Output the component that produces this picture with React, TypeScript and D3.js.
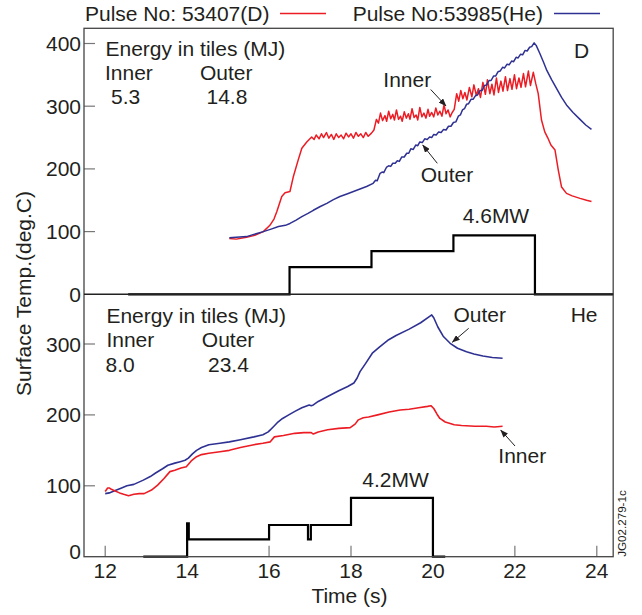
import React from 'react';
import * as d3 from 'd3';

type P = [number, number];

// ---------- tick labels ----------
const xTicks = [12, 14, 16, 18, 20, 22, 24];
const yTopTicks = [0, 100, 200, 300, 400];
const yBotTicks = [0, 100, 200, 300];

// ---------- top panel (D): surface temperature ----------
const dInner: P[] = [
  [15.03, 89], [15.2, 88], [15.45, 91], [15.65, 94], [15.86, 100], [16.02, 110], [16.12, 120],
  [16.19, 132], [16.31, 156], [16.39, 162], [16.51, 164], [16.59, 187], [16.71, 214], [16.8, 233],
  [16.92, 243], [17.04, 251], [17.1, 247], [17.15, 254], [17.22, 248], [17.28, 256], [17.33, 250],
  [17.4, 258], [17.46, 249], [17.52, 255], [17.58, 247], [17.64, 256], [17.7, 250], [17.76, 254],
  [17.82, 248], [17.88, 257], [17.94, 251], [18.0, 256], [18.06, 249], [18.12, 258], [18.18, 252],
  [18.24, 256], [18.3, 250], [18.36, 258], [18.42, 252], [18.5, 257], [18.56, 262], [18.62, 279],
  [18.67, 273], [18.72, 289], [18.77, 277], [18.83, 285], [18.87, 276], [18.92, 292], [18.97, 280],
  [19.02, 287], [19.06, 278], [19.11, 294], [19.16, 279], [19.21, 284], [19.25, 276], [19.3, 291],
  [19.35, 281], [19.4, 288], [19.44, 279], [19.49, 296], [19.54, 282], [19.59, 286], [19.63, 278],
  [19.68, 298], [19.73, 283], [19.78, 289], [19.83, 281], [19.88, 295], [19.92, 284], [19.97, 290],
  [20.02, 283], [20.07, 297], [20.12, 286], [20.17, 292], [20.22, 284], [20.27, 302], [20.32, 288],
  [20.37, 294], [20.42, 283], [20.47, 290], [20.52, 295], [20.58, 320], [20.63, 308], [20.68, 325],
  [20.73, 312], [20.78, 322], [20.83, 310], [20.89, 330], [20.95, 315], [21.0, 334], [21.06, 317],
  [21.11, 328], [21.16, 314], [21.22, 338], [21.28, 319], [21.33, 342], [21.39, 320], [21.44, 335],
  [21.49, 318], [21.55, 345], [21.6, 322], [21.66, 340], [21.71, 324], [21.77, 347], [21.82, 325],
  [21.88, 344], [21.93, 327], [21.99, 350], [22.04, 328], [22.1, 345], [22.15, 330], [22.21, 352],
  [22.26, 331], [22.33, 356], [22.38, 333], [22.45, 354], [22.51, 336], [22.57, 320], [22.65, 278],
  [22.73, 259], [22.8, 250], [22.88, 238], [22.98, 230], [23.06, 198], [23.14, 171], [23.26, 161],
  [23.4, 157], [23.59, 153], [23.75, 150], [23.87, 148],
];

const dOuter: P[] = [
  [15.03, 90], [15.45, 92], [15.86, 100], [16.05, 104], [16.23, 108], [16.4, 110], [16.51, 113],
  [16.65, 118], [16.8, 124], [16.95, 129], [17.08, 134], [17.25, 140], [17.41, 145], [17.57, 151],
  [17.73, 156], [17.9, 160], [18.06, 164], [18.22, 168], [18.38, 172], [18.54, 177], [18.6, 182],
  [18.64, 181], [18.71, 193], [18.76, 195], [18.8, 194], [18.87, 203], [18.92, 205], [18.97, 204],
  [19.02, 209], [19.08, 209], [19.13, 213], [19.18, 212], [19.24, 219], [19.3, 219], [19.36, 225],
  [19.41, 225], [19.46, 232], [19.52, 231], [19.58, 238], [19.63, 237], [19.68, 243], [19.74, 242],
  [19.8, 248], [19.86, 247], [19.92, 251], [19.97, 250], [20.02, 255], [20.08, 254], [20.14, 259],
  [20.2, 258], [20.26, 263], [20.32, 262], [20.38, 268], [20.44, 268], [20.5, 274], [20.56, 275],
  [20.62, 284], [20.67, 286], [20.72, 294], [20.77, 296], [20.82, 303], [20.87, 304], [20.93, 311],
  [20.98, 311], [21.04, 317], [21.09, 318], [21.15, 325], [21.2, 325], [21.26, 333], [21.31, 334],
  [21.37, 341], [21.42, 341], [21.48, 348], [21.53, 348], [21.59, 355], [21.64, 356], [21.7, 362],
  [21.75, 361], [21.81, 367], [21.86, 366], [21.92, 372], [21.97, 371], [22.03, 378], [22.08, 377],
  [22.14, 383], [22.19, 382], [22.25, 389], [22.3, 388], [22.36, 394], [22.41, 395], [22.47, 401],
  [22.52, 397], [22.61, 384], [22.7, 370], [22.78, 357], [22.9, 342], [23.02, 328], [23.14, 314],
  [23.26, 302], [23.42, 290], [23.59, 279], [23.73, 270], [23.87, 263],
];

// ---------- bottom panel (He): surface temperature ----------
const heOuter: P[] = [
  [12.0, 89], [12.1, 90], [12.23, 93], [12.4, 97], [12.53, 100], [12.7, 102], [12.93, 108],
  [13.1, 113], [13.23, 118], [13.4, 124], [13.53, 129], [13.7, 132], [13.83, 134], [13.95, 136],
  [14.03, 139], [14.13, 145], [14.23, 150], [14.35, 154], [14.53, 158], [14.8, 160], [15.03, 162],
  [15.3, 165], [15.63, 169], [15.85, 172], [15.98, 176], [16.1, 183], [16.2, 189], [16.33, 195],
  [16.48, 200], [16.63, 205], [16.8, 210], [16.98, 214], [17.03, 213], [17.08, 214], [17.2, 219],
  [17.43, 226], [17.7, 234], [17.92, 240], [18.07, 245], [18.15, 252], [18.22, 261], [18.35, 272],
  [18.52, 287], [18.7, 296], [18.92, 306], [19.1, 312], [19.42, 321], [19.7, 330], [19.92, 339],
  [19.97, 341], [20.02, 337], [20.12, 324], [20.25, 311], [20.42, 301], [20.6, 294], [20.82, 289],
  [21.0, 286], [21.22, 283], [21.45, 281], [21.7, 280],
];

const heInner: P[] = [
  [12.0, 92], [12.06, 97], [12.1, 97], [12.15, 95], [12.23, 93], [12.35, 90], [12.45, 88],
  [12.57, 86], [12.7, 88], [12.83, 89], [12.95, 89], [13.13, 94], [13.28, 101], [13.43, 110],
  [13.58, 120], [13.7, 122], [13.85, 125], [13.98, 127], [14.1, 135], [14.23, 141], [14.35, 144],
  [14.53, 146], [14.8, 148], [15.03, 150], [15.3, 154], [15.63, 158], [15.85, 160], [16.03, 162],
  [16.13, 169], [16.35, 171], [16.63, 174], [16.85, 175], [17.03, 175], [17.08, 173], [17.2, 176],
  [17.43, 179], [17.7, 181], [17.98, 182], [18.1, 187], [18.18, 193], [18.3, 196], [18.43, 197],
  [18.65, 200], [18.93, 204], [19.2, 207], [19.42, 208], [19.65, 210], [19.87, 212], [19.95, 213],
  [20.02, 209], [20.1, 201], [20.17, 195], [20.3, 190], [20.52, 186], [20.7, 185], [21.02, 184],
  [21.3, 184], [21.5, 183], [21.7, 184],
];

// ---------- heating power (step traces) ----------
const dPower: P[] = [[12.56, 0], [16.5, 43.5], [18.5, 69], [20.5, 94], [22.49, 0], [24.4, 0]];
const hePower: P[] = [
  [12.93, 0], [14.0, 47], [14.04, 24.5], [16.0, 44.7], [16.95, 24.5], [17.02, 44.7], [18.0, 83],
  [20.0, 0], [20.3, 0],
];

const RED = '#ec1c24';
const BLUE = '#2e3192';
const INK = '#231f20';
const FONT = "'Liberation Sans', Arial, Helvetica, sans-serif";

export default function App() {
  const x = d3.scaleLinear().domain([12, 24]).range([105.2, 596.8]);
  const yT = d3.scaleLinear().domain([0, 400]).range([294.3, 43.5]);
  const yB = d3.scaleLinear().domain([0, 300]).range([556.7, 344]);
  const left = 84;
  const right = x(24.4);
  const top = 28.3;
  const bottom = yB(0);
  const mid = yT(0);

  const lineT = d3.line<P>().x(d => x(d[0])).y(d => yT(d[1]));
  const lineB = d3.line<P>().x(d => x(d[0])).y(d => yB(d[1]));
  const stepT = d3.line<P>().x(d => x(d[0])).y(d => yT(d[1])).curve(d3.curveStepAfter);
  const stepB = d3.line<P>().x(d => x(d[0])).y(d => yB(d[1])).curve(d3.curveStepAfter);

  const txt = { fontFamily: FONT, fontSize: 21, fill: INK } as const;

  return (
    <svg width={642} height={615} style={{ position: 'absolute', left: 0, top: 0, background: '#fff' }}>
      <defs>
        <marker id="ah" markerUnits="userSpaceOnUse" markerWidth={8} markerHeight={6} refX={7.5} refY={3} orient="auto">
          <path d="M0,0 L8,3 L0,6 Z" fill={INK} />
        </marker>
      </defs>

      {/* legend */}
      <text x={85} y={20.7} {...txt}>Pulse No: 53407(D)</text>
      <line x1={280} x2={326} y1={13.5} y2={13.5} stroke={RED} strokeWidth={1.6} />
      <text x={352.7} y={20.7} {...txt}>Pulse No:53985(He)</text>
      <line x1={554} x2={600} y1={13.5} y2={13.5} stroke={BLUE} strokeWidth={1.6} />

      {/* y tick marks and labels */}
      {yTopTicks.filter(t => t > 0).map(t => (
        <line key={'tt' + t} x1={left} x2={left + 11} y1={yT(t)} y2={yT(t)} stroke="#777" strokeWidth={1.2} />
      ))}
      {yTopTicks.map(t => (
        <text key={'tl' + t} x={81} y={yT(t)} dy="0.36em" textAnchor="end" {...txt}>{t}</text>
      ))}
      {yBotTicks.filter(t => t > 0).map(t => (
        <line key={'bt' + t} x1={left} x2={left + 11} y1={yB(t)} y2={yB(t)} stroke="#777" strokeWidth={1.2} />
      ))}
      {yBotTicks.map(t => (
        <text key={'bl' + t} x={81} y={Math.min(yB(t), 551.5)} dy="0.36em" textAnchor="end" {...txt}>{t}</text>
      ))}

      {/* x tick marks and labels */}
      {xTicks.map(t => (
        <g key={'x' + t}>
          <line x1={x(t)} x2={x(t)} y1={bottom} y2={bottom - 11} stroke="#777" strokeWidth={1.2} />
          <text x={x(t)} y={577.5} textAnchor="middle" {...txt}>{t}</text>
        </g>
      ))}

      {/* axis titles */}
      <text x={349.5} y={602.5} textAnchor="middle" {...txt}>Time (s)</text>
      <text transform={`translate(31,293.5) rotate(-90)`} textAnchor="middle" {...txt}>Surface Temp.(deg.C)</text>
      <text transform={`translate(626,556.7) rotate(-90)`} textAnchor="start" fontFamily={FONT} fontSize={11.6} fill={INK}>JG02.279-1c</text>

      {/* data: top panel */}
      <path d={lineT(dInner) || ''} fill="none" stroke={RED} strokeWidth={1.5} strokeLinejoin="round" />
      <path d={lineT(dOuter) || ''} fill="none" stroke={BLUE} strokeWidth={1.5} strokeLinejoin="round" />
      <path d={stepT(dPower) || ''} fill="none" stroke="#000" strokeWidth={2.2} />

      {/* data: bottom panel */}
      <path d={lineB(heOuter) || ''} fill="none" stroke={BLUE} strokeWidth={1.6} strokeLinejoin="round" />
      <path d={lineB(heInner) || ''} fill="none" stroke={RED} strokeWidth={1.6} strokeLinejoin="round" />
      <path d={stepB(hePower) || ''} fill="none" stroke="#000" strokeWidth={2.2} />

      {/* frame and divider */}
      <rect x={left} y={top} width={right - left} height={bottom - top} fill="none" stroke="#444" strokeWidth={1.3} />
      <line x1={left} x2={right} y1={mid} y2={mid} stroke="#222" strokeWidth={1.4} />

      {/* top panel annotations */}
      <text x={105.5} y={55.5} {...txt}>Energy in tiles (MJ)</text>
      <text x={105} y={79.5} {...txt}>Inner</text>
      <text x={200} y={79.5} {...txt}>Outer</text>
      <text x={111} y={103.5} {...txt}>5.3</text>
      <text x={206.5} y={103.5} {...txt}>14.8</text>
      <text x={574} y={57.7} {...txt}>D</text>
      <text x={383.3} y={86.7} {...txt}>Inner</text>
      <line x1={430.7} y1={89.5} x2={446} y2={106} stroke={INK} strokeWidth={1} markerEnd="url(#ah)" />
      <text x={420.7} y={181.7} {...txt}>Outer</text>
      <line x1={437.3} y1={163.3} x2={422.7} y2={145} stroke={INK} strokeWidth={1} markerEnd="url(#ah)" />
      <text x={462.7} y={223.3} {...txt}>4.6MW</text>

      {/* bottom panel annotations */}
      <text x={106.4} y={322.5} {...txt}>Energy in tiles (MJ)</text>
      <text x={106.4} y={346.7} {...txt}>Inner</text>
      <text x={201.8} y={346.7} {...txt}>Outer</text>
      <text x={105.6} y={371.5} {...txt}>8.0</text>
      <text x={208} y={371.5} {...txt}>23.4</text>
      <text x={453.5} y={322.3} {...txt}>Outer</text>
      <line x1={468.7} y1={328.3} x2={452.3} y2={342.3} stroke={INK} strokeWidth={1} markerEnd="url(#ah)" />
      <text x={570.7} y={322.3} {...txt}>He</text>
      <text x={498.3} y={463.3} {...txt}>Inner</text>
      <line x1={515} y1={446} x2={500.7} y2={430} stroke={INK} strokeWidth={1} markerEnd="url(#ah)" />
      <text x={362.3} y={487} {...txt}>4.2MW</text>
    </svg>
  );
}
